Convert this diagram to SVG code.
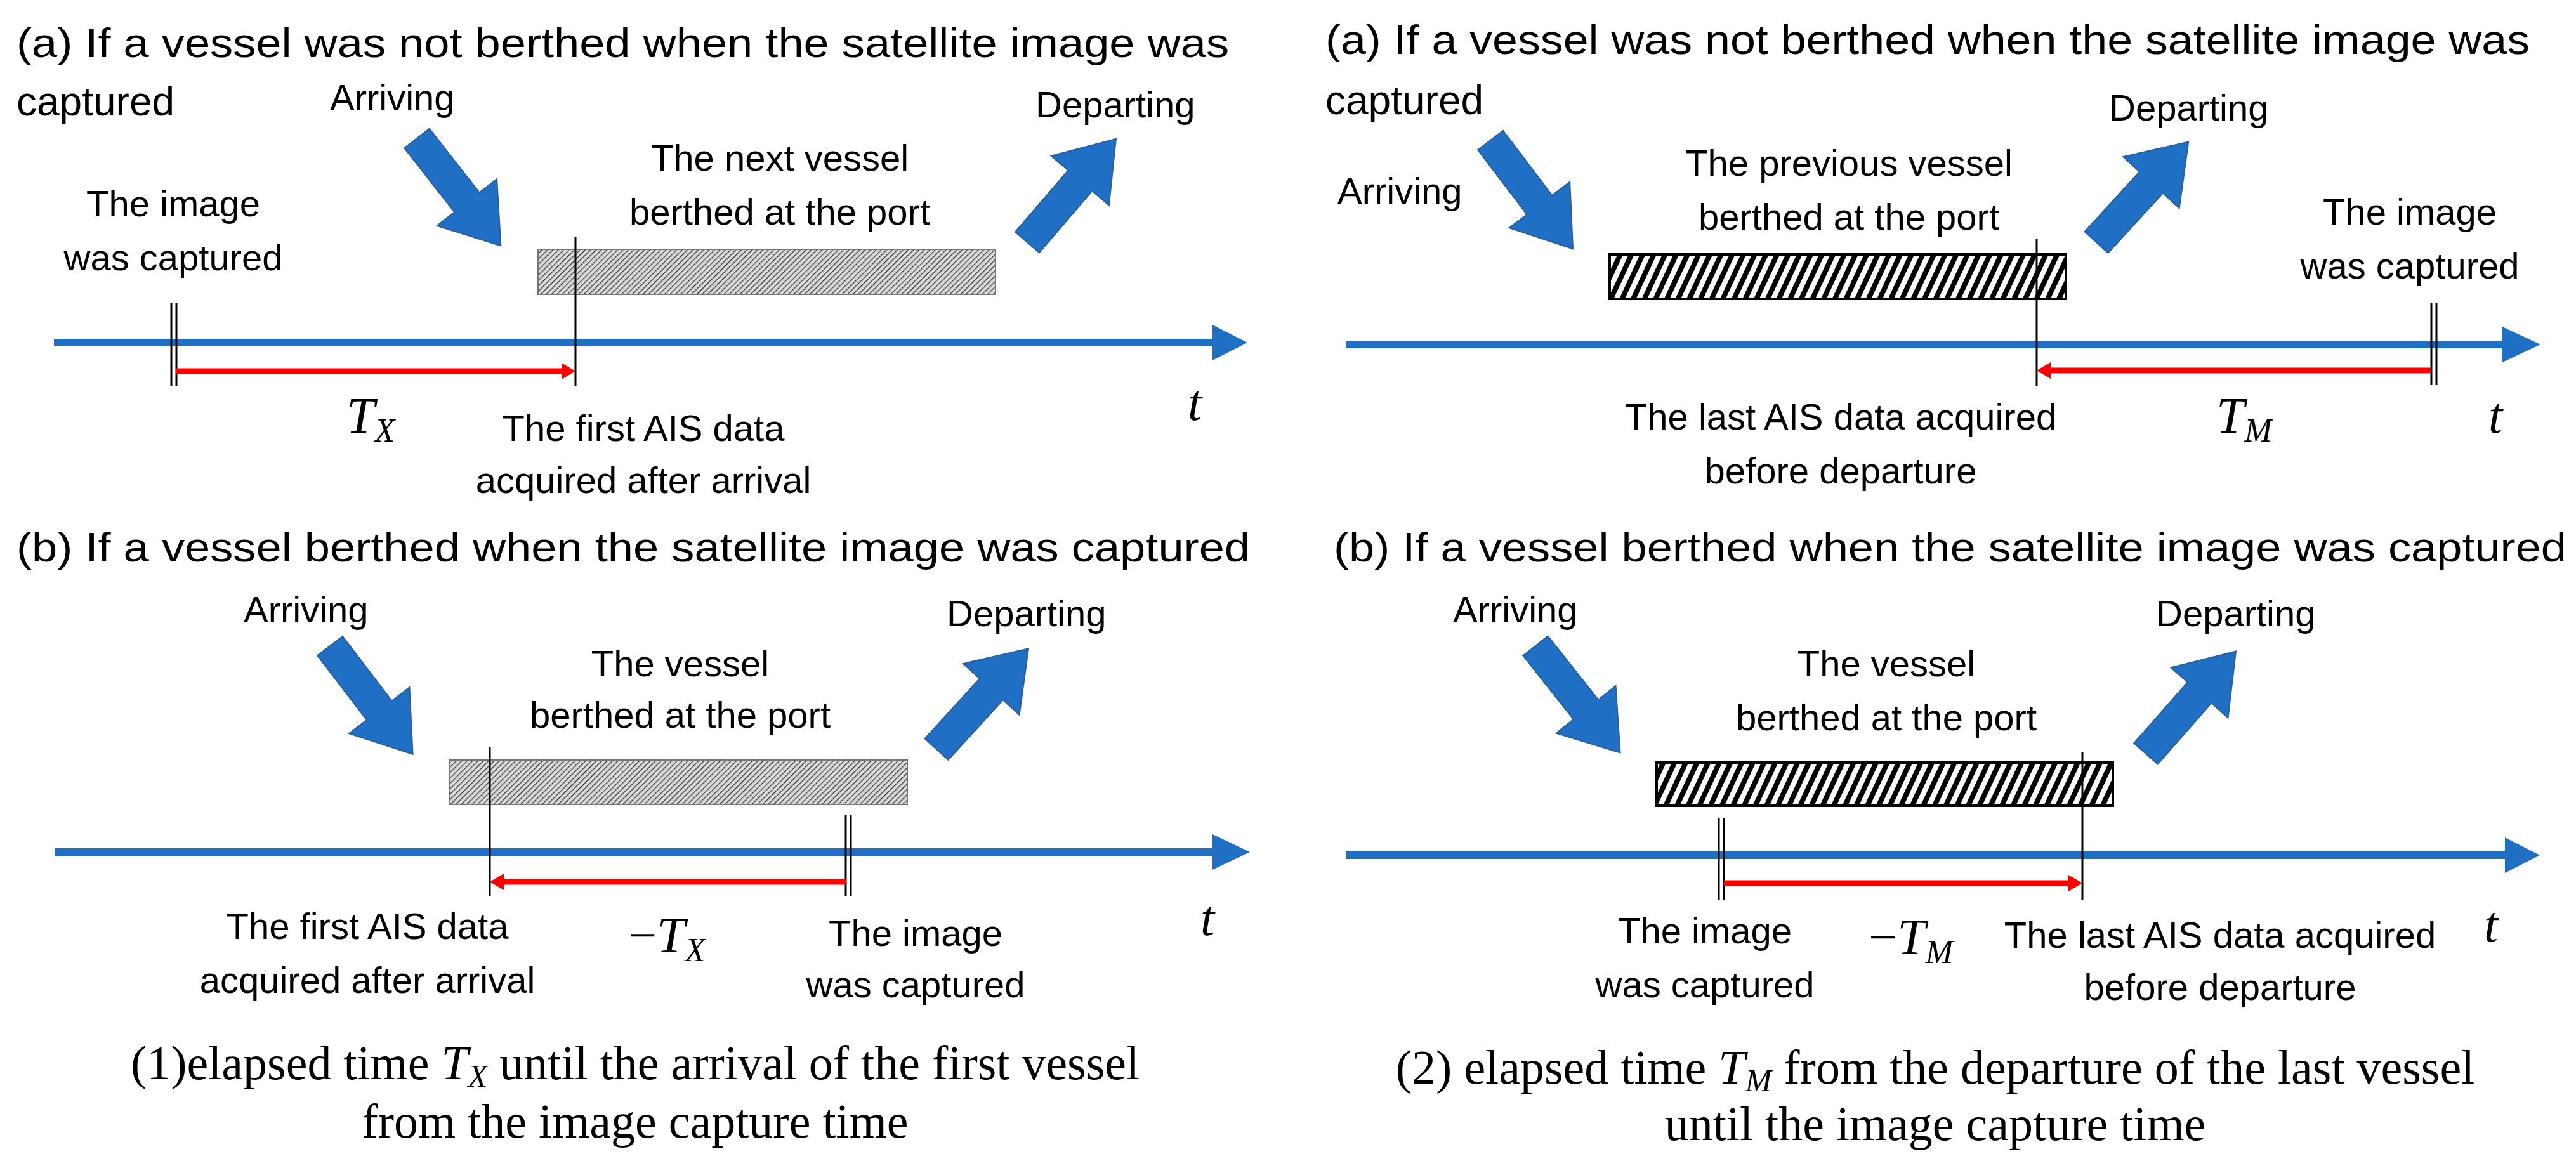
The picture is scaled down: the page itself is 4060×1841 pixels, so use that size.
<svg xmlns="http://www.w3.org/2000/svg" width="4060" height="1841" viewBox="0 0 4060 1841">
<style>
.h{font-family:"Liberation Sans",Arial,sans-serif;font-size:64px;fill:#000}
.l{font-family:"Liberation Sans",Arial,sans-serif;font-size:58px;fill:#000;text-anchor:middle}
.s{font-family:"Liberation Sans",Arial,sans-serif;font-size:58px;fill:#000}
.m{font-family:"Liberation Serif","Times New Roman",serif;font-style:italic;font-size:80px;fill:#000}
.c{font-family:"Liberation Serif","Times New Roman",serif;font-size:76px;fill:#000;text-anchor:middle}
.ax{stroke:#1f70c4;stroke-width:12;fill:none}
.axh{fill:#1f70c4}
.vl{stroke:#000;stroke-width:3}
.red{stroke:#ff0000;stroke-width:9}
.bl{fill:#1f70c4;stroke:#2a5f9e;stroke-width:2}
</style>
<defs>
<pattern id="fine" width="6" height="6" patternUnits="userSpaceOnUse" patternTransform="rotate(45)">
<rect width="6" height="6" fill="#d8d8d8"/><line x1="0" y1="0" x2="0" y2="6" stroke="#333" stroke-width="2.5"/>
</pattern>
<pattern id="bold" width="16" height="16" patternUnits="userSpaceOnUse" patternTransform="rotate(25)">
<rect width="16" height="16" fill="#fff"/><rect width="8" height="16" fill="#000"/>
</pattern>
<path id="blk" d="M0,-25 L128,-25 L128,-60 L215,0 L128,60 L128,25 L0,25 Z"/>
</defs>

<g id="titles">
<text class="h" x="26" y="90" textLength="1911" lengthAdjust="spacingAndGlyphs">(a) If a vessel was not berthed when the satellite image was</text>
<text class="h" x="26" y="182">captured</text>
<text class="h" x="26" y="885" textLength="1944" lengthAdjust="spacingAndGlyphs">(b) If a vessel berthed when the satellite image was captured</text>
<text class="h" x="2089" y="85" textLength="1898" lengthAdjust="spacingAndGlyphs">(a) If a vessel was not berthed when the satellite image was</text>
<text class="h" x="2089" y="180">captured</text>
<text class="h" x="2102" y="885" textLength="1943" lengthAdjust="spacingAndGlyphs">(b) If a vessel berthed when the satellite image was captured</text>
</g>

<g id="bars">
<rect x="848" y="393" width="721" height="71" fill="url(#fine)" stroke="#777" stroke-width="2"/>
<rect x="708" y="1198" width="722" height="70" fill="url(#fine)" stroke="#777" stroke-width="2"/>
<rect x="2537" y="401" width="719" height="70" fill="url(#bold)" stroke="#000" stroke-width="4"/>
<rect x="2611" y="1202" width="719" height="68" fill="url(#bold)" stroke="#000" stroke-width="4"/>
</g>

<g id="block-arrows">
<use href="#blk" class="bl" transform="translate(657,218) rotate(52)"/>
<use href="#blk" class="bl" transform="translate(1619,382) rotate(-49.4)"/>
<use href="#blk" class="bl" transform="translate(520,1018) rotate(52.6)"/>
<use href="#blk" class="bl" transform="translate(1476,1181) rotate(-47.6)"/>
<use href="#blk" class="bl" transform="translate(2349,221) rotate(52.8)"/>
<use href="#blk" class="bl" transform="translate(3304,382) rotate(-47.5)"/>
<use href="#blk" class="bl" transform="translate(2420,1018) rotate(51.6)"/>
<use href="#blk" class="bl" transform="translate(3382,1188) rotate(-48.7)"/>
</g>

<g id="connectors">
<line class="ax" x1="85" y1="540" x2="1915" y2="540"/><polygon class="axh" points="1911,512 1966,540 1911,568"/>
<line class="ax" x1="86" y1="1343" x2="1915" y2="1343"/><polygon class="axh" points="1911,1315 1970,1343 1911,1371"/>
<line class="ax" x1="2121" y1="543" x2="3948" y2="543"/><polygon class="axh" points="3944,515 4004,543 3944,571"/>
<line class="ax" x1="2121" y1="1348" x2="3952" y2="1348"/><polygon class="axh" points="3948,1320 4003,1348 3948,1376"/>

<line class="vl" x1="907" y1="373" x2="907" y2="609"/>
<line class="vl" x1="270" y1="477" x2="270" y2="608"/><line class="vl" x1="278" y1="477" x2="278" y2="608"/>
<line class="red" x1="278" y1="585" x2="890" y2="585"/><polygon fill="#f00" points="885,572 907,585 885,598"/>

<line class="vl" x1="772" y1="1178" x2="772" y2="1412"/>
<line class="vl" x1="1333" y1="1285" x2="1333" y2="1412"/><line class="vl" x1="1341" y1="1285" x2="1341" y2="1412"/>
<line class="red" x1="1333" y1="1390" x2="790" y2="1390"/><polygon fill="#f00" points="794,1377 772,1390 794,1403"/>

<line class="vl" x1="3210" y1="376" x2="3210" y2="609"/>
<line class="vl" x1="3832" y1="478" x2="3832" y2="607"/><line class="vl" x1="3840" y1="478" x2="3840" y2="607"/>
<line class="red" x1="3832" y1="584" x2="3228" y2="584"/><polygon fill="#f00" points="3232,571 3210,584 3232,597"/>

<line class="vl" x1="3282" y1="1185" x2="3282" y2="1418"/>
<line class="vl" x1="2709" y1="1290" x2="2709" y2="1418"/><line class="vl" x1="2717" y1="1290" x2="2717" y2="1418"/>
<line class="red" x1="2717" y1="1392" x2="3264" y2="1392"/><polygon fill="#f00" points="3260,1379 3282,1392 3260,1405"/>
</g>

<g id="labels-1a">
<text class="s" x="520" y="174">Arriving</text>
<text class="s" x="1632" y="185">Departing</text>
<text class="l" x="273" y="341">The image</text>
<text class="l" x="273" y="426">was captured</text>
<text class="l" x="1229" y="269">The next vessel</text>
<text class="l" x="1229" y="354">berthed at the port</text>
<text class="l" x="1014" y="695">The first AIS data</text>
<text class="l" x="1014" y="777">acquired after arrival</text>
<text class="m" x="546" y="682">T<tspan font-size="52" dy="14">X</tspan></text>
<text class="m" x="1872" y="662">t</text>
</g>

<g id="labels-1b">
<text class="s" x="384" y="981">Arriving</text>
<text class="s" x="1492" y="987">Departing</text>
<text class="l" x="1072" y="1066">The vessel</text>
<text class="l" x="1072" y="1147">berthed at the port</text>
<text class="l" x="579" y="1480">The first AIS data</text>
<text class="l" x="579" y="1565">acquired after arrival</text>
<text class="m" x="990" y="1501"><tspan font-style="normal">−</tspan>T<tspan font-size="52" dy="14">X</tspan></text>
<text class="l" x="1443" y="1491">The image</text>
<text class="l" x="1443" y="1572">was captured</text>
<text class="m" x="1892" y="1474">t</text>
<text class="c" x="1001" y="1701">(1)elapsed time <tspan font-style="italic">T</tspan><tspan font-style="italic" font-size="50" dy="12">X</tspan><tspan dy="-12"> until the arrival of the first vessel</tspan></text>
<text class="c" x="1001" y="1793">from the image capture time</text>
</g>

<g id="labels-2a">
<text class="s" x="2108" y="321">Arriving</text>
<text class="s" x="3324" y="190">Departing</text>
<text class="l" x="2914" y="277">The previous vessel</text>
<text class="l" x="2914" y="362">berthed at the port</text>
<text class="l" x="3798" y="354">The image</text>
<text class="l" x="3798" y="439">was captured</text>
<text class="l" x="2901" y="677">The last AIS data acquired</text>
<text class="l" x="2901" y="762">before departure</text>
<text class="m" x="3493" y="682">T<tspan font-size="52" dy="14">M</tspan></text>
<text class="m" x="3922" y="682">t</text>
</g>

<g id="labels-2b">
<text class="s" x="2290" y="981">Arriving</text>
<text class="s" x="3398" y="987">Departing</text>
<text class="l" x="2973" y="1066">The vessel</text>
<text class="l" x="2973" y="1151">berthed at the port</text>
<text class="l" x="2687" y="1487">The image</text>
<text class="l" x="2687" y="1572">was captured</text>
<text class="m" x="2945" y="1504"><tspan font-style="normal">−</tspan>T<tspan font-size="52" dy="14">M</tspan></text>
<text class="l" x="3499" y="1494">The last AIS data acquired</text>
<text class="l" x="3499" y="1576">before departure</text>
<text class="m" x="3915" y="1484">t</text>
<text class="c" x="3050" y="1708">(2) elapsed time <tspan font-style="italic">T</tspan><tspan font-style="italic" font-size="50" dy="12">M</tspan><tspan dy="-12"> from the departure of the last vessel</tspan></text>
<text class="c" x="3050" y="1797">until the image capture time</text>
</g>
</svg>
